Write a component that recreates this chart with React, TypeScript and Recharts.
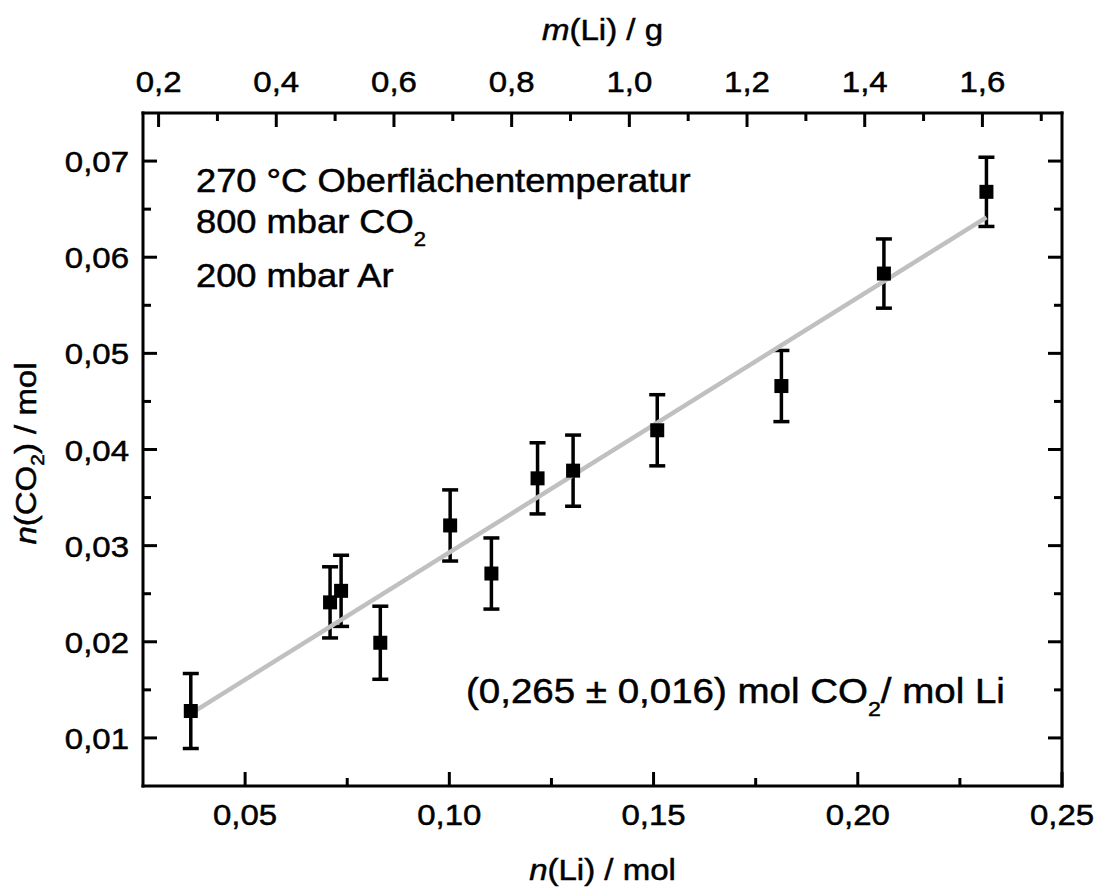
import React from 'react';
import { ComposedChart, Scatter, ErrorBar, XAxis, YAxis, ReferenceLine } from 'recharts';

// molar mass of lithium, links the n(Li) and m(Li) axes
const M_LI = 6.941;

// measured amounts
const nLi = [0.0367, 0.0708, 0.0735, 0.0831, 0.1002, 0.1103, 0.1216, 0.1303, 0.1509, 0.1813, 0.2064, 0.2315];
const nCO2 = [0.0128, 0.0241, 0.0253, 0.0199, 0.0321, 0.0271, 0.0370, 0.0378, 0.0420, 0.0466, 0.0583, 0.0668];
const nCO2Err = [0.0039, 0.0037, 0.0037, 0.0038, 0.0037, 0.0037, 0.0037, 0.0037, 0.0037, 0.0037, 0.0036, 0.0036];

// linear fit n(CO2) = slope * n(Li) + intercept
const FIT_SLOPE = 0.265;
const FIT_INTERCEPT = 0.0028;

// axes
const X_DOMAIN = [0.025, 0.25];
const X_MAJOR = [0.05, 0.1, 0.15, 0.2, 0.25];
const X_MINOR = [0.075, 0.125, 0.175, 0.225];
const Y_DOMAIN = [0.005, 0.075];
const Y_MAJOR = [0.01, 0.02, 0.03, 0.04, 0.05, 0.06, 0.07];
const Y_MINOR = [0.015, 0.025, 0.035, 0.045, 0.055, 0.065];
const M_MAJOR = [0.2, 0.4, 0.6, 0.8, 1.0, 1.2, 1.4, 1.6];
const M_MINOR = [0.3, 0.5, 0.7, 0.9, 1.1, 1.3, 1.5, 1.7];

const W = 1102;
const H = 892;
// plot box edges
const BOX = { left: 143, top: 113, right: 1062, bottom: 786 };
// axes get 1px of size, so the margins are 1px short of the box
const MARGIN = { top: BOX.top - 1, right: W - BOX.right - 1, bottom: H - BOX.bottom - 1, left: BOX.left - 1 };

const FONT = '"Liberation Sans", Arial, Helvetica, sans-serif';
const FS = 30;
const SX = 1.1; // horizontal stretch of the lettering
const MAJOR_LEN = 14;
const MINOR_LEN = 8;

const points = nLi.map((x, i) => ({ x, m: x * M_LI, y: nCO2[i], err: nCO2Err[i] }));
const fitX0 = Math.min(...nLi);
const fitX1 = Math.max(...nLi);

const isIn = (v: number, list: number[]) => list.some((t) => Math.abs(t - v) < 1e-9);
const comma = (v: number, d: number) => v.toFixed(d).replace('.', ',');

function Label({ x, y, children, anchor = 'middle', size = FS }: any) {
  return (
    <text
      transform={`translate(${x} ${y}) scale(${SX} 1)`}
      textAnchor={anchor}
      fontFamily={FONT}
      fontSize={size}
      fill="#000"
      stroke="#000"
      strokeWidth={0.5}
    >
      {children}
    </text>
  );
}

function BottomTick({ x, payload }: any) {
  const major = isIn(payload.value, X_MAJOR);
  const len = major ? MAJOR_LEN : MINOR_LEN;
  return (
    <g>
      <line x1={x} x2={x} y1={BOX.bottom} y2={BOX.bottom - len} stroke="#000" strokeWidth={3} />
      {major && <Label x={x} y={825}>{comma(payload.value, 2)}</Label>}
    </g>
  );
}

function TopTick({ x, payload }: any) {
  const major = isIn(payload.value, M_MAJOR);
  const len = major ? MAJOR_LEN : MINOR_LEN;
  return (
    <g>
      <line x1={x} x2={x} y1={BOX.top} y2={BOX.top + len} stroke="#000" strokeWidth={3} />
      {major && <Label x={x} y={92}>{comma(payload.value, 1)}</Label>}
    </g>
  );
}

function LeftTick({ y, payload }: any) {
  const major = isIn(payload.value, Y_MAJOR);
  const len = major ? MAJOR_LEN : MINOR_LEN;
  return (
    <g>
      <line x1={BOX.left} x2={BOX.left + len} y1={y} y2={y} stroke="#000" strokeWidth={3} />
      {major && <Label x={BOX.left - 14} y={y + 11} anchor="end">{comma(payload.value, 2)}</Label>}
    </g>
  );
}

function RightTick({ y, payload }: any) {
  const major = isIn(payload.value, Y_MAJOR);
  const len = major ? MAJOR_LEN : MINOR_LEN;
  return <line x1={BOX.right} x2={BOX.right - len} y1={y} y2={y} stroke="#000" strokeWidth={3} />;
}

function SquareDot({ cx, cy }: any) {
  return <rect x={cx - 7} y={cy - 7} width={14} height={14} fill="#000" />;
}

// the mass series only carries the top scale, nothing is drawn for it
function NoDot() {
  return <g />;
}

const frame = { stroke: '#000', strokeWidth: 3, strokeLinecap: 'square' as const };

export default function App() {
  return (
    <div style={{ position: 'absolute', left: 0, top: 0, width: W, height: H, background: '#fff' }}>
      <ComposedChart width={W} height={H} margin={MARGIN}>
        <XAxis
          xAxisId="n"
          type="number"
          dataKey="x"
          orientation="bottom"
          domain={X_DOMAIN}
          allowDataOverflow
          ticks={[...X_MAJOR, ...X_MINOR]}
          interval={0}
          height={1}
          axisLine={frame}
          tickLine={false}
          tick={<BottomTick />}
        />
        <XAxis
          xAxisId="m"
          type="number"
          dataKey="m"
          orientation="top"
          domain={[X_DOMAIN[0] * M_LI, X_DOMAIN[1] * M_LI]}
          allowDataOverflow
          ticks={[...M_MAJOR, ...M_MINOR]}
          interval={0}
          height={1}
          axisLine={frame}
          tickLine={false}
          tick={<TopTick />}
        />
        <YAxis
          yAxisId="left"
          type="number"
          dataKey="y"
          domain={Y_DOMAIN}
          allowDataOverflow
          ticks={[...Y_MAJOR, ...Y_MINOR]}
          interval={0}
          width={1}
          axisLine={frame}
          tickLine={false}
          tick={<LeftTick />}
        />
        <YAxis
          yAxisId="right"
          type="number"
          orientation="right"
          domain={Y_DOMAIN}
          allowDataOverflow
          ticks={[...Y_MAJOR, ...Y_MINOR]}
          interval={0}
          width={1}
          axisLine={frame}
          tickLine={false}
          tick={<RightTick />}
        />
        <Scatter
          xAxisId="m"
          yAxisId="right"
          dataKey="y"
          data={points}
          shape={<NoDot />}
          isAnimationActive={false}
        />
        <Scatter
          xAxisId="n"
          yAxisId="left"
          data={points}
          shape={<SquareDot />}
          isAnimationActive={false}
        >
          <ErrorBar dataKey="err" direction="y" width={8} strokeWidth={3.5} stroke="#000" isAnimationActive={false} />
        </Scatter>
        <ReferenceLine
          xAxisId="n"
          yAxisId="left"
          segment={[
            { x: fitX0, y: FIT_SLOPE * fitX0 + FIT_INTERCEPT },
            { x: fitX1, y: FIT_SLOPE * fitX1 + FIT_INTERCEPT },
          ]}
          stroke="#c0c0c0"
          strokeWidth={4.5}
        />
      </ComposedChart>

      {/* axis titles and annotations */}
      <svg width={W} height={H} style={{ position: 'absolute', left: 0, top: 0, pointerEvents: 'none' }}>
        <Label x={(BOX.left + BOX.right) / 2} y={40}>
          <tspan fontStyle="italic">m</tspan>(Li) / g
        </Label>
        <Label x={(BOX.left + BOX.right) / 2} y={880}>
          <tspan fontStyle="italic">n</tspan>(Li) / mol
        </Label>
        <text
          transform={`translate(36 ${(BOX.top + BOX.bottom) / 2 + 4}) rotate(-90) scale(${SX} 1)`}
          textAnchor="middle"
          fontFamily={FONT}
          fontSize={FS}
          stroke="#000"
          strokeWidth={0.5}
        >
          <tspan fontStyle="italic">n</tspan>(CO<tspan fontSize={19} dy={8}>2</tspan>
          <tspan dy={-8}>) / mol</tspan>
        </text>

        <Label x={196} y={192} anchor="start" size={33}>270 °C Oberflächentemperatur</Label>
        <Label x={196} y={233} anchor="start" size={33}>
          800 mbar CO<tspan fontSize={20} dy={13}>2</tspan>
        </Label>
        <Label x={196} y={287} anchor="start" size={33}>200 mbar Ar</Label>
        <Label x={466} y={703} anchor="start" size={35}>
          (0,265 ± 0,016) mol CO<tspan fontSize={21} dy={13}>2</tspan>
          <tspan dy={-13}>/ mol Li</tspan>
        </Label>
      </svg>
    </div>
  );
}
